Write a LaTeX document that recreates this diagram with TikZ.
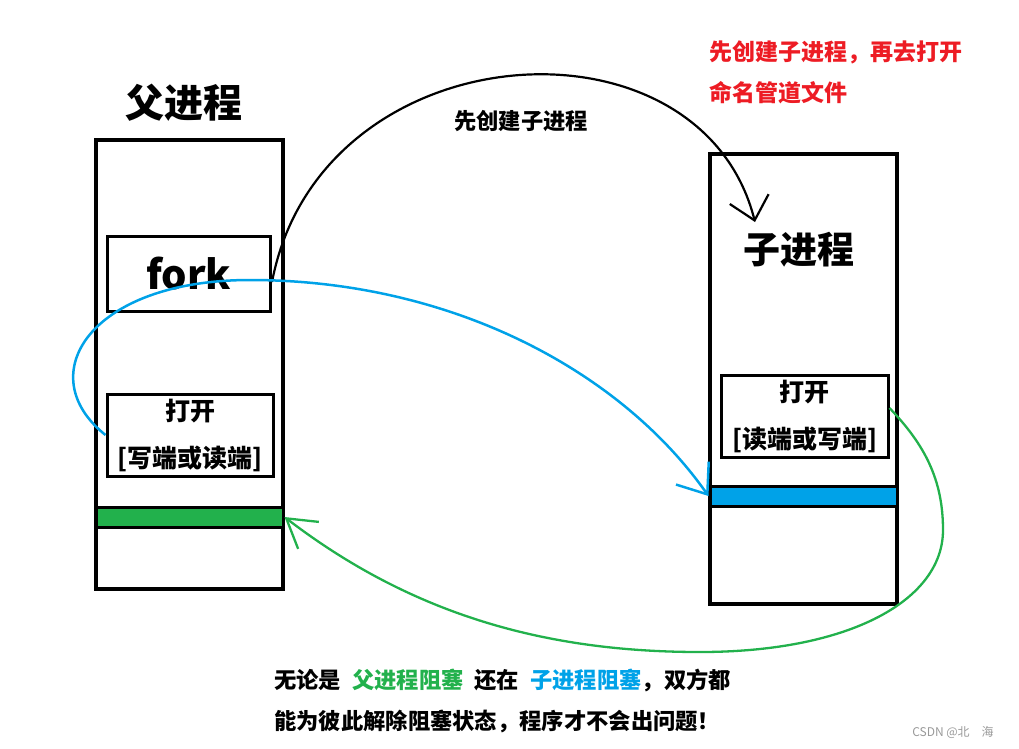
\documentclass[tikz,border=0pt]{standalone}
\usepackage{fontspec}
\setmainfont{Noto Sans CJK SC}
\usetikzlibrary{arrows.meta}
\definecolor{paintgreen}{HTML}{22B14C}
\definecolor{paintblue}{HTML}{00A2E8}
\definecolor{paintred}{HTML}{ED1C24}

\begin{document}
\begin{tikzpicture}[x=1pt, y=-1pt,
        proc/.style={rectangle, draw, line width=3.4pt, minimum width=187pt, inner sep=0pt},
        inbox/.style={rectangle, draw, line width=3pt, inner sep=0pt, align=center,
            font=\fontsize{25}{47}\selectfont\bfseries},
        pipe/.style={rectangle, draw, line width=3pt, minimum width=187pt, minimum height=20pt, inner sep=0pt},
        ttl/.style={inner sep=0pt, font=\fontsize{39}{44}\selectfont\bfseries},
        txt/.style={inner sep=0pt, font=\fontsize{22.3}{26}\selectfont\bfseries},
        >={Straight Barb[length=22pt,width=40pt]}
    ]
    \useasboundingbox (0,0) rectangle (1019,748);

    % Parent process
    \node[ttl] (ptitle) at (184,103) {父进程};
    \node[proc, minimum height=449pt] (parent) at (189.5,364.5) {};
    \node[inbox, minimum width=163pt, minimum height=75pt,
        font=\fontsize{40}{44}\selectfont\bfseries] (fork) at (188.5,273.5) {fork};
    \node[inbox, minimum width=166pt, minimum height=82pt] (popen) at (190,435) {打开\\{[}写端或读端]};
    \node[pipe, fill=paintgreen] (pbar) at (189.5,517) {};

    % Child process
    \node[proc, minimum height=450pt] (child) at (803.5,379) {};
    \node[ttl, font=\fontsize{37}{42}\selectfont\bfseries] (ctitle) at (799,250) {子进程};
    \node[inbox, minimum width=167pt, minimum height=82pt] (copen) at (804.5,416) {打开\\{[}读端或写端]};
    \node[pipe, fill=paintblue] (cbar) at (803.5,496) {};

    % Notes
    \node[txt, font=\fontsize{23}{26}\selectfont\bfseries, text=paintred, anchor=west] (noteA) at (709,52) {先创建子进程，再去打开};
    \node[txt, font=\fontsize{23}{26}\selectfont\bfseries, text=paintred, anchor=west] (noteB) at (709,93) {命名管道文件};
    \node[txt] (lblfork) at (521,121) {先创建子进程};
    \node[txt, anchor=west] (sumA) at (274,680) {无论是\hspace{11pt}\textcolor{paintgreen}{父进程阻塞}\hspace{11pt}还在\hspace{11pt}\textcolor{paintblue}{子进程阻塞}，双方都};
    \node[txt, anchor=west] (sumB) at (274,721) {能为彼此解除阻塞状态，程序才不会出问题！};
    \node[inner sep=0pt, text=gray!80, font=\fontsize{12}{14}\selectfont] (mark) at (953,732) {CSDN @北　海};

    \coordinate (forkout) at (272,282);
    \coordinate (forkin) at (755,222);

    % fork creates the child
    \draw[line width=2.2pt, ->] (forkout) .. controls (320,30) and (700,5) .. (forkin);
    % parent opens -> child side
    \draw[paintblue, line width=2.5pt, -{Straight Barb[length=26pt,width=40pt]}]
        (popen.west) .. controls (30,375) and (90,280) .. (250,280)
        .. controls (450,280) and (620,370) .. (cbar.west);
    % child opens -> parent side
    \draw[paintgreen, line width=2.3pt, -{Straight Barb[length=28pt,width=34pt]}]
        ([yshift=8pt]copen.east) .. controls (925,445) and (943,480) .. (943,530)
        .. controls (943,600) and (850,652) .. (700,652)
        .. controls (550,652) and (415,617) .. (pbar.east);

\end{tikzpicture}
\end{document}
